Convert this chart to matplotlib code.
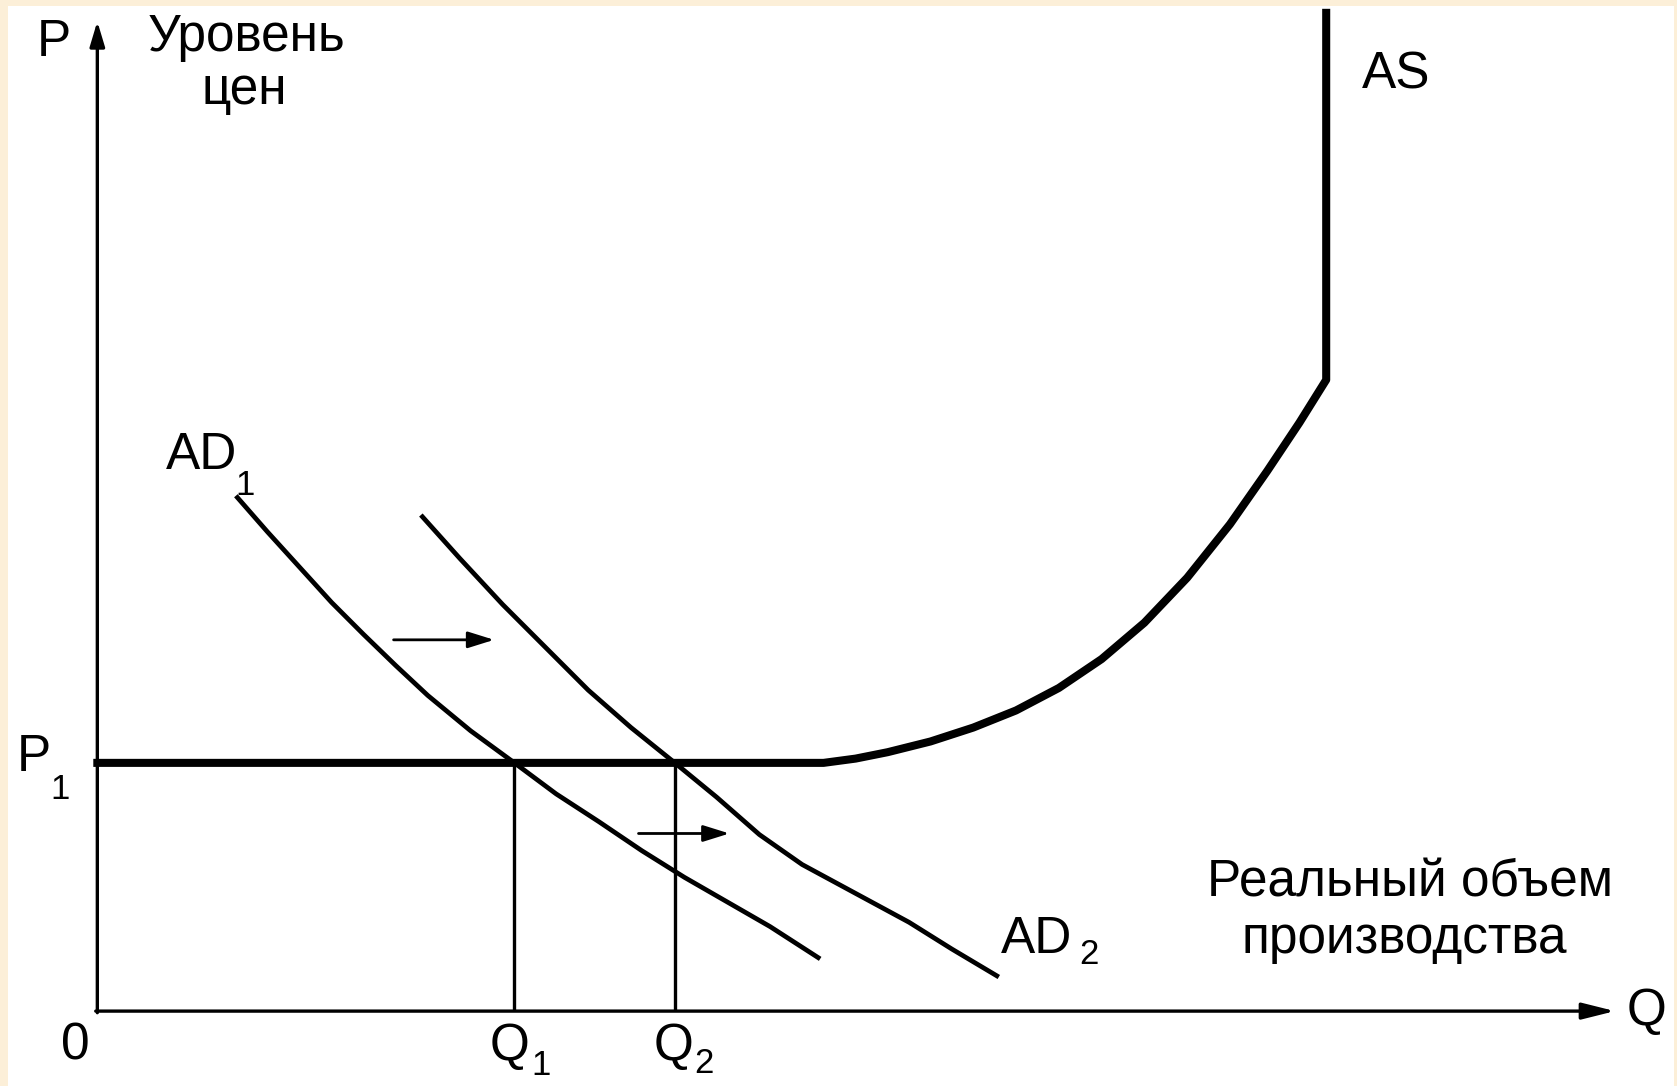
import matplotlib
matplotlib.use("Agg")
import matplotlib.pyplot as plt
from matplotlib.patches import Rectangle

plt.rcParams['font.family'] = ['Liberation Sans', 'DejaVu Sans']

# price level of the horizontal AS segment, and equilibrium outputs
P1 = 232
Q1 = 390
Q2 = 540

# aggregate demand curves
q_ad1 = [131, 159, 189, 219, 249, 279, 309, 349, 390, 429, 469, 509, 549, 589, 629, 674]
p_ad1 = [480, 448, 415, 382, 352, 323, 295, 262, 232, 203, 177, 150, 125, 102, 79, 50]
q_ad2 = [304, 339, 379, 419, 459, 499, 540, 579, 619, 659, 709, 759, 799, 841]
p_ad2 = [462, 423, 380, 340, 300, 265, 232, 200, 165, 137, 110, 83, 58, 33]

# aggregate supply: horizontal, rising, vertical
q_as = [0, 679, 709, 739, 779, 819, 859, 899, 939, 979, 1019, 1059, 1094, 1124, 1149, 1149]
p_as = [232, 232, 236, 242, 252, 265, 281, 302, 329, 363, 405, 455, 505, 550, 590, 933]

# shift arrows: start and end Q at given P
shift_p = [347, 166]
shift_q0 = [277, 506]
shift_q1 = [371, 591]

fig = plt.figure(figsize=(16.77, 10.86), dpi=100)
fig.patch.set_facecolor('#fcefd8')
ax = fig.add_axes([0, 0, 1, 1])
ax.set_xlim(-91, 1477)
ax.set_ylim(-70, 945)
ax.axis('off')
ax.add_patch(Rectangle((-83.5, -80), 1557.5, 1019.5, facecolor='white', edgecolor='none', zorder=0))

# axes with arrows
ax.annotate('', xy=(0, 925), xytext=(0, -1.5),
            arrowprops=dict(arrowstyle='-|>,head_length=1.5,head_width=0.45', lw=2.4, color='black',
                            shrinkA=0, shrinkB=0))
ax.annotate('', xy=(1419, 0), xytext=(-1.5, 0),
            arrowprops=dict(arrowstyle='-|>,head_length=2.0,head_width=0.5', lw=2.4, color='black',
                            shrinkA=0, shrinkB=0))

# verticals at Q1, Q2
ax.plot([Q1, Q1], [0, P1], color='black', lw=2.4, solid_capstyle='butt')
ax.plot([Q2, Q2], [0, P1], color='black', lw=2.4, solid_capstyle='butt')

ax.plot(q_ad1, p_ad1, color='black', lw=3.4, solid_joinstyle='round')
ax.plot(q_ad2, p_ad2, color='black', lw=3.4, solid_joinstyle='round')
ax.plot(q_as, p_as, color='black', lw=5.8, solid_joinstyle='round')

for p, a, b in zip(shift_p, shift_q0, shift_q1):
    ax.annotate('', xy=(b, p), xytext=(a, p),
                arrowprops=dict(arrowstyle='-|>,head_length=1.6,head_width=0.5', lw=2.0, color='black',
                                shrinkA=0, shrinkB=0))

fs = 37
sub = 25
ax.text(-41, 905, 'P', fontsize=fs, ha='center', va='center')
ax.text(47, 910, 'Уровень', fontsize=fs, ha='left', va='center')
ax.text(137, 860, 'цен', fontsize=fs, ha='center', va='center')
ax.text(1214, 875, 'AS', fontsize=fs, ha='center', va='center')
ax.text(131, 519, 'AD', fontsize=fs, ha='right', va='center')
ax.text(138, 491, '1', fontsize=sub, ha='center', va='center')
ax.text(-43, 237, 'P', fontsize=fs, ha='right', va='center')
ax.text(-35, 207, '1', fontsize=sub, ha='center', va='center')
ax.text(-21, -33, '0', fontsize=fs, ha='center', va='center')
ax.text(404, -33, 'Q', fontsize=fs, ha='right', va='center')
ax.text(415, -51, '1', fontsize=sub, ha='center', va='center')
ax.text(557, -33, 'Q', fontsize=fs, ha='right', va='center')
ax.text(567, -49, '2', fontsize=sub, ha='center', va='center')
ax.text(1227, 120, 'Реальный объем', fontsize=fs, ha='center', va='center')
ax.text(1222, 67, 'производства', fontsize=fs, ha='center', va='center')
ax.text(912, 67, 'AD', fontsize=fs, ha='right', va='center')
ax.text(927, 53, '2', fontsize=sub, ha='center', va='center')
ax.text(1449, 0, 'Q', fontsize=fs, ha='center', va='center')

fig.savefig('out.png', dpi=100, facecolor=fig.get_facecolor())
